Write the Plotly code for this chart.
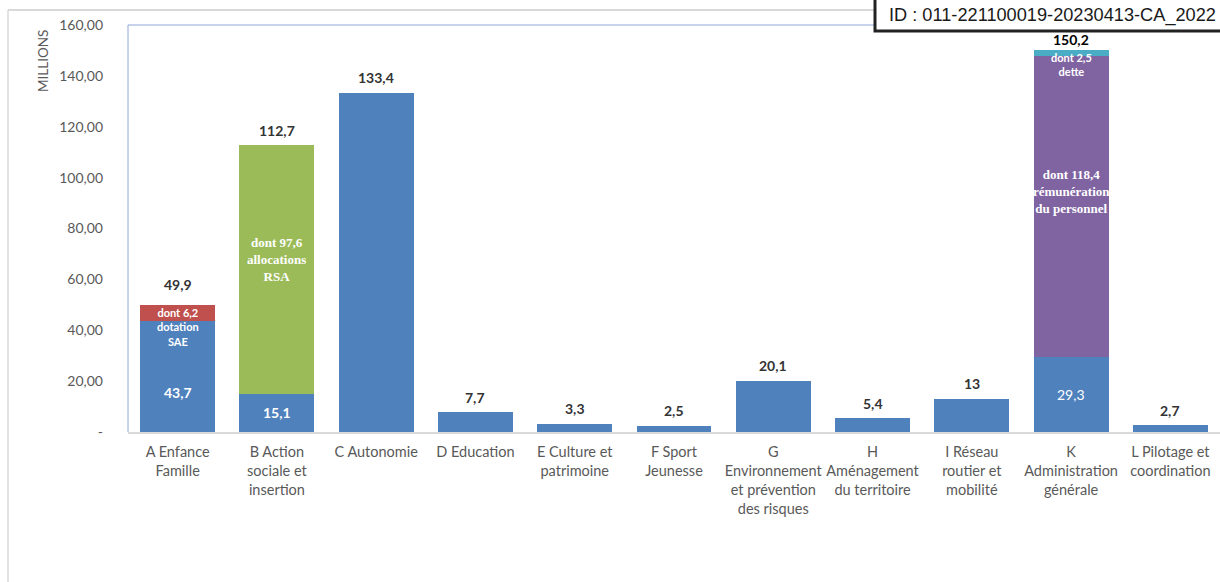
import plotly.graph_objects as go

# ---------------- data ----------------
cat_keys = ["A", "B", "C", "D", "E", "F", "G", "H", "I", "K", "L"]
cat_labels = [
    "A Enfance<br>Famille",
    "B Action<br>sociale et<br>insertion",
    "C Autonomie",
    "D Education",
    "E Culture et<br>patrimoine",
    "F Sport<br>Jeunesse",
    "G<br>Environnement<br>et prévention<br>des risques",
    "H<br>Aménagement<br>du territoire",
    "I Réseau<br>routier et<br>mobilité",
    "K<br>Administration<br>générale",
    "L Pilotage et<br>coordination",
]
base_values = [43.7, 15.1, 133.4, 7.7, 3.3, 2.5, 20.1, 5.4, 13, 29.3, 2.7]
dont_values = [6.2, 97.6, 0, 0, 0, 0, 0, 0, 0, 118.4, 0]
dette_values = [0, 0, 0, 0, 0, 0, 0, 0, 0, 2.5, 0]
total_labels = ["49,9", "112,7", "133,4", "7,7", "3,3", "2,5", "20,1", "5,4", "13", "150,2", "2,7"]
base_inner_labels = {"A": "43,7", "B": "15,1", "K": "29,3"}
dont_texts = {
    "A": "dont 6,2<br>dotation<br>SAE",
    "B": "dont 97,6<br>allocations<br>RSA",
    "K": "dont 118,4<br>rémunération<br>du personnel",
}
dette_text = {"K": "dont 2,5<br>dette"}
y_ticks = [0, 20, 40, 60, 80, 100, 120, 140, 160]
y_ticktext = ["-", "20,00", "40,00", "60,00", "80,00", "100,00", "120,00", "140,00", "160,00"]
id_text = "ID : 011-221100019-20230413-CA_2022"

# ---------------- styles ----------------
BLUE = "#4F81BD"
dont_colors = {"A": "#C0504D", "B": "#9BBB59", "K": "#8064A2"}
CYAN = "#4BACC6"
SANS = "Lato"
SERIF = "Liberation Serif"

W, H = 1220, 582
ML, MR, MT, MB = 128, 0, 25, 150
PW, PH = W - ML - MR, H - MT - MB


def px_x(px):
    return (px - ML) / PW


def px_y(py):
    return (H - MB - py) / PH


fig = go.Figure()
fig.add_trace(go.Bar(x=cat_keys, y=base_values, marker=dict(color=BLUE, line=dict(width=0)),
                     hoverinfo="skip", showlegend=False))
fig.add_trace(go.Bar(x=cat_keys, y=dont_values,
                     marker=dict(color=[dont_colors.get(k, BLUE) for k in cat_keys], line=dict(width=0)),
                     hoverinfo="skip", showlegend=False))
fig.add_trace(go.Bar(x=cat_keys, y=dette_values, marker=dict(color=CYAN, line=dict(width=0)),
                     hoverinfo="skip", showlegend=False))

annotations = []
totals = [b + d + e for b, d, e in zip(base_values, dont_values, dette_values)]
lift = {"A": 21, "K": 10}
for k, tot, lab in zip(cat_keys, totals, total_labels):
    annotations.append(dict(x=k, y=tot, xref="x", yref="y", text=f"<b>{lab}</b>", showarrow=False,
                            yanchor="middle", yshift=lift.get(k, 15),
                            font=dict(family=SANS, size=14, color="#000000" if k == "K" else "#333333")))

base_shift = {"A": -16}
for k, lab in base_inner_labels.items():
    i = cat_keys.index(k)
    txt = f"<b>{lab}</b>" if k != "K" else lab
    annotations.append(dict(x=k, y=base_values[i] / 2, xref="x", yref="y", text=txt, showarrow=False,
                            yanchor="middle", yshift=base_shift.get(k, 0),
                            font=dict(family=SANS, size=14, color="white")))

serif_shift = {"B": 10, "K": 15}
for k, txt in dont_texts.items():
    i = cat_keys.index(k)
    if k == "A":
        annotations.append(dict(x=k, y=totals[i], xref="x", yref="y", text=f"<b>{txt}</b>", showarrow=False,
                                yanchor="top", yshift=1,
                                font=dict(family=SANS, size=11, color="white")))
    else:
        mid = base_values[i] + dont_values[i] / 2
        annotations.append(dict(x=k, y=mid, xref="x", yref="y", text=f"<b>{txt}</b>", showarrow=False,
                                yanchor="middle", yshift=serif_shift[k],
                                font=dict(family=SERIF, size=13, color="white")))

for k, txt in dette_text.items():
    i = cat_keys.index(k)
    annotations.append(dict(x=k, y=totals[i], xref="x", yref="y", text=f"<b>{txt}</b>", showarrow=False,
                            yanchor="top", yshift=1,
                            font=dict(family=SANS, size=11, color="white")))

# axis title
annotations.append(dict(x=px_x(43), y=px_y(61), xref="paper", yref="paper", text="MILLIONS",
                        textangle=-90, showarrow=False, xanchor="center", yanchor="middle",
                        font=dict(family=SANS, size=13.5, color="#595959")))

# ID stamp
annotations.append(dict(x=px_x(887), y=px_y(16), xref="paper", yref="paper", text=id_text,
                        showarrow=False, xanchor="left", yanchor="middle",
                        font=dict(family="Liberation Sans", size=18.2, color="#1a1a1a")))

shapes = [
    # outer chart border
    dict(type="line", xref="paper", yref="paper", x0=px_x(8), x1=px_x(8), y0=px_y(10), y1=px_y(600),
         line=dict(color="#d9d9d9", width=1.5), layer="below"),
    dict(type="line", xref="paper", yref="paper", x0=px_x(8), x1=px_x(1240), y0=px_y(10), y1=px_y(10),
         line=dict(color="#d9d9d9", width=2), layer="below"),
    # plot area border (top & left)
    dict(type="line", xref="paper", yref="paper", x0=0, x1=0, y0=0, y1=1,
         line=dict(color="#8EA8D8", width=1), layer="below"),
    dict(type="line", xref="paper", yref="paper", x0=0, x1=1.01, y0=1, y1=1,
         line=dict(color="#8EA8D8", width=1), layer="below"),
    # ID box
    dict(type="rect", xref="paper", yref="paper", x0=px_x(875), x1=px_x(1250), y0=px_y(-10), y1=px_y(31),
         fillcolor="white", line=dict(color="#222222", width=3), layer="above"),
]

fig.update_layout(
    width=W, height=H,
    margin=dict(l=ML, r=MR, t=MT, b=MB, pad=0),
    paper_bgcolor="white", plot_bgcolor="white",
    barmode="stack", bargap=0.245,
    showlegend=False,
    annotations=annotations,
    shapes=shapes,
    xaxis=dict(tickmode="array", tickvals=cat_keys, ticktext=cat_labels, showgrid=False,
               showline=True, linecolor="#d9d9d9", linewidth=1.5, ticks="",
               tickfont=dict(family=SANS, size=14.5, color="#595959"), fixedrange=True,
               ticklabelstandoff=6),
    yaxis=dict(range=[0, 160], tickmode="array", tickvals=y_ticks, ticktext=y_ticktext,
               showgrid=False, zeroline=False, showline=False, ticks="",
               tickfont=dict(family=SANS, size=14, color="#595959"), ticklabelstandoff=24,
               fixedrange=True),
)

fig.write_html("out.html")
